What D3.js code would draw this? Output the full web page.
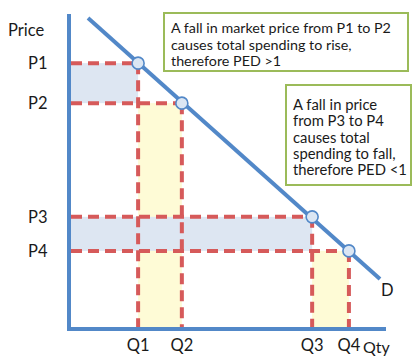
<!DOCTYPE html>
<html>
<head>
<meta charset="utf-8">
<script src="https://cdn.jsdelivr.net/npm/d3@7"></script>
<style>
  html, body { margin: 0; padding: 0; background: #fff; }
  svg { display: block; }
  text { font-family: Lato, "Open Sans", sans-serif; fill: #1a1a1a; }
</style>
</head>
<body>
<svg id="chart" width="412" height="358"></svg>
<script>
// Price / quantity points on the demand curve
const priceLabels = ["P1", "P2", "P3", "P4"];
const priceValues = [84.4, 71.7, 35.6, 24.8];
const qtyLabels = ["Q1", "Q2", "Q3", "Q4"];
const qtyValues = [21.8, 35.6, 76.7, 88.3];
// Demand line end points [qty, price]
const demandStart = [6.0, 98.7];
const demandEnd = [98.1, 15.9];
// Explanatory notes
const note1 = ["A fall in market price from P1 to P2", "causes total spending to rise,", "therefore PED >1"];
const note2 = ["A fall in price", "from P3 to P4", "causes total", "spending to fall,", "therefore PED <1"];

const svg = d3.select("#chart");
const x = d3.scaleLinear().domain([0, 100]).range([69, 386]);
const y = d3.scaleLinear().domain([0, 100]).range([329, 14]);

const blue = "#5288c8";
const red = "#d65a5a";
const shadeBlue = "#dde6f2";
const shadeYellow = "#fefbd6";

// Revenue change areas: price band (blue) and quantity band (yellow)
const pairs = [[0, 1], [2, 3]];
pairs.forEach(([a, b]) => {
  svg.append("rect")
    .attr("x", x(0)).attr("y", y(priceValues[a]))
    .attr("width", x(qtyValues[a]) - x(0))
    .attr("height", y(priceValues[b]) - y(priceValues[a]))
    .attr("fill", shadeBlue);
  svg.append("rect")
    .attr("x", x(qtyValues[a])).attr("y", y(priceValues[b]))
    .attr("width", x(qtyValues[b]) - x(qtyValues[a]))
    .attr("height", y(0) - y(priceValues[b]))
    .attr("fill", shadeYellow);
});

// Dashed guide lines from each point to the axes
const dash = "11,6";
priceValues.forEach((p, i) => {
  svg.append("line")
    .attr("x1", x(0) + 2).attr("x2", x(qtyValues[i]))
    .attr("y1", y(p)).attr("y2", y(p))
    .attr("stroke", red).attr("stroke-width", 4)
    .attr("stroke-dasharray", dash);
  svg.append("line")
    .attr("x1", x(qtyValues[i])).attr("x2", x(qtyValues[i]))
    .attr("y1", y(p)).attr("y2", y(0) - 2)
    .attr("stroke", red).attr("stroke-width", 4)
    .attr("stroke-dasharray", dash);
});

// Axes
svg.append("line")
  .attr("x1", x(0)).attr("x2", x(0))
  .attr("y1", y(100)).attr("y2", y(0) + 2)
  .attr("stroke", blue).attr("stroke-width", 4);
svg.append("line")
  .attr("x1", x(0) - 2).attr("x2", x(100))
  .attr("y1", y(0)).attr("y2", y(0))
  .attr("stroke", blue).attr("stroke-width", 4);

// Demand curve
svg.append("line")
  .attr("x1", x(demandStart[0])).attr("y1", y(demandStart[1]))
  .attr("x2", x(demandEnd[0])).attr("y2", y(demandEnd[1]))
  .attr("stroke", blue).attr("stroke-width", 4);

// Points on the demand curve
priceValues.forEach((p, i) => {
  svg.append("circle")
    .attr("cx", x(qtyValues[i])).attr("cy", y(p)).attr("r", 6)
    .attr("fill", "#dbe6f3").attr("stroke", blue).attr("stroke-width", 1.6);
});

// Axis labels
svg.append("text").attr("x", 8).attr("y", 36)
  .attr("font-size", 16.5).text("Price");
priceValues.forEach((p, i) => {
  svg.append("text").attr("x", 28).attr("y", y(p) + 6)
    .attr("font-size", 16.5).text(priceLabels[i]);
});
qtyValues.forEach((q, i) => {
  svg.append("text").attr("x", x(q)).attr("y", 351)
    .attr("text-anchor", "middle")
    .attr("font-size", 16.5).text(qtyLabels[i]);
});
svg.append("text").attr("x", 363).attr("y", 353)
  .attr("font-size", 16).text("Qty");
svg.append("text").attr("x", 381).attr("y", 296)
  .attr("font-size", 16.5).text("D");

// Note boxes
function noteBox(bx, by, bw, bh, lines, lineH, tx, ty, fs) {
  svg.append("rect")
    .attr("x", bx).attr("y", by).attr("width", bw).attr("height", bh)
    .attr("fill", "#fff").attr("stroke", "#9bbb59").attr("stroke-width", 2);
  const t = svg.append("text").attr("font-size", fs);
  lines.forEach((l, i) => {
    t.append("tspan").attr("x", tx).attr("y", ty + i * lineH).text(l);
  });
}
noteBox(164, 13, 244, 58, note1, 16.5, 171, 33, 14.3);
noteBox(286, 85, 125, 100, note2, 16.3, 293, 110, 14.8);
</script>
</body>
</html>
